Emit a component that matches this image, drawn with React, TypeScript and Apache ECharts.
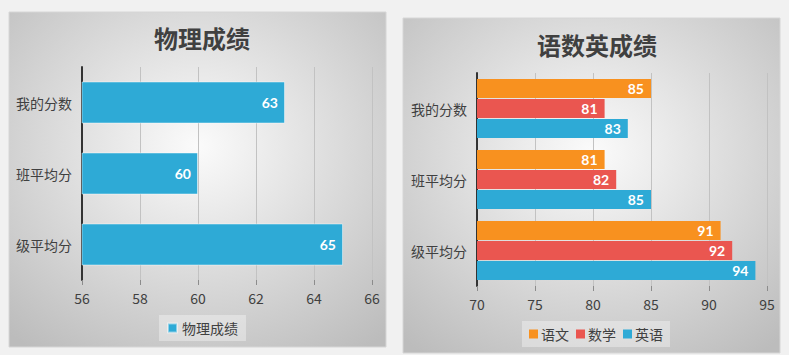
import React, { useEffect, useRef } from "react";
import * as echarts from "echarts";

const categories = ["我的分数", "班平均分", "级平均分"];
const physicsName = "物理成绩";
const physicsValues = [63, 60, 65];
const physicsTicks = { min: 56, max: 66, interval: 2 };

const subjectNames = ["语文", "数学", "英语"];
const chineseValues = [85, 81, 91];
const mathValues = [81, 82, 92];
const englishValues = [83, 85, 94];
const subjectTicks = { min: 70, max: 95, interval: 5 };

const BLUE = "#2eaad6";
const ORANGE = "#f8911f";
const RED = "#ea5650";
const TEXT = "#404040";
const FONT = "'Noto Sans CJK SC', 'Noto Sans', sans-serif";

export default function App() {
  const ref = useRef<HTMLDivElement>(null);
  useEffect(() => {
    document.body.style.margin = "0";
    const chart = echarts.init(ref.current!, undefined, { renderer: "svg" });
    const panelFill = {
      type: "radial",
      x: 0.5,
      y: 0.4,
      r: 0.75,
      colorStops: [
        { offset: 0, color: "#fbfbfb" },
        { offset: 1, color: "#bcbcbc" },
      ],
    };
    const valueLabel = {
      show: true,
      position: "insideRight",
      distance: 7,
      color: "#ffffff",
      fontWeight: "bold",
      fontSize: 14,
      fontFamily: "Lato, 'Open Sans', sans-serif",
    };
    const xAxisCommon = (t: { min: number; max: number; interval: number }) => ({
      type: "value",
      min: t.min,
      max: t.max,
      interval: t.interval,
      axisLine: { show: false },
      axisTick: { show: true, length: 5, lineStyle: { color: "#8c8c8c" } },
      splitLine: { show: true, lineStyle: { color: "#c2c2c2", width: 1 } },
      axisLabel: { color: TEXT, fontSize: 14, fontFamily: FONT, margin: 11 },
    });
    const yAxisCommon = {
      type: "category",
      data: categories,
      inverse: true,
      axisLine: { show: true, lineStyle: { color: "#333333", width: 2 } },
      axisTick: { show: false },
      axisLabel: { color: TEXT, fontSize: 14, fontFamily: FONT, margin: 10 },
    };
    chart.setOption({
      animation: false,
      backgroundColor: "#f1f1f1",
      graphic: [
        {
          type: "rect",
          z: -10,
          shape: { x: 9, y: 12, width: 377, height: 335 },
          style: { fill: panelFill, stroke: "#d6d6d6", lineWidth: 1 },
        },
        {
          type: "rect",
          z: -10,
          shape: { x: 403, y: 18, width: 377, height: 335 },
          style: { fill: panelFill, stroke: "#d6d6d6", lineWidth: 1 },
        },
      ],
      title: [
        {
          text: "物理成绩",
          left: 197,
          top: 20,
          textAlign: "center",
          textStyle: { color: TEXT, fontSize: 24, fontWeight: "bold", fontFamily: FONT },
        },
        {
          text: "语数英成绩",
          left: 592,
          top: 27,
          textAlign: "center",
          textStyle: { color: TEXT, fontSize: 24, fontWeight: "bold", fontFamily: FONT },
        },
      ],
      legend: [
        {
          data: [physicsName],
          left: 159,
          top: 315,
          padding: [6, 8, 6, 8],
          backgroundColor: "rgba(255,255,255,0.35)",
          itemWidth: 9,
          itemHeight: 9,
          icon: "rect",
          textStyle: { color: TEXT, fontSize: 14, fontFamily: FONT },
        },
        {
          data: subjectNames,
          left: 522,
          top: 321,
          padding: [6, 7, 6, 7],
          backgroundColor: "rgba(255,255,255,0.35)",
          itemWidth: 9,
          itemHeight: 9,
          itemGap: 7,
          icon: "rect",
          textStyle: { color: TEXT, fontSize: 14, fontFamily: FONT, padding: [0, 0, 0, -2] },
        },
      ],
      grid: [
        { left: 82, top: 67, width: 290, height: 213 },
        { left: 477, top: 73, width: 290, height: 213 },
      ],
      xAxis: [
        { ...xAxisCommon(physicsTicks), gridIndex: 0 },
        { ...xAxisCommon(subjectTicks), gridIndex: 1 },
      ],
      yAxis: [
        { ...yAxisCommon, gridIndex: 0 },
        { ...yAxisCommon, gridIndex: 1 },
      ],
      series: [
        {
          name: physicsName,
          type: "bar",
          xAxisIndex: 0,
          yAxisIndex: 0,
          data: physicsValues,
          barWidth: 42,
          itemStyle: { color: BLUE, borderColor: "rgba(255,255,255,0.45)", borderWidth: 1 },
          label: valueLabel,
        },
        {
          name: subjectNames[0],
          type: "bar",
          xAxisIndex: 1,
          yAxisIndex: 1,
          data: chineseValues,
          barWidth: 19,
          barGap: "5%",
          itemStyle: { color: ORANGE },
          label: valueLabel,
        },
        {
          name: subjectNames[1],
          type: "bar",
          xAxisIndex: 1,
          yAxisIndex: 1,
          data: mathValues,
          barWidth: 19,
          barGap: "5%",
          itemStyle: { color: RED },
          label: valueLabel,
        },
        {
          name: subjectNames[2],
          type: "bar",
          xAxisIndex: 1,
          yAxisIndex: 1,
          data: englishValues,
          barWidth: 19,
          barGap: "5%",
          itemStyle: { color: BLUE },
          label: valueLabel,
        },
      ],
    });
    return () => chart.dispose();
  }, []);
  return <div ref={ref} style={{ width: 789, height: 355 }} />;
}
